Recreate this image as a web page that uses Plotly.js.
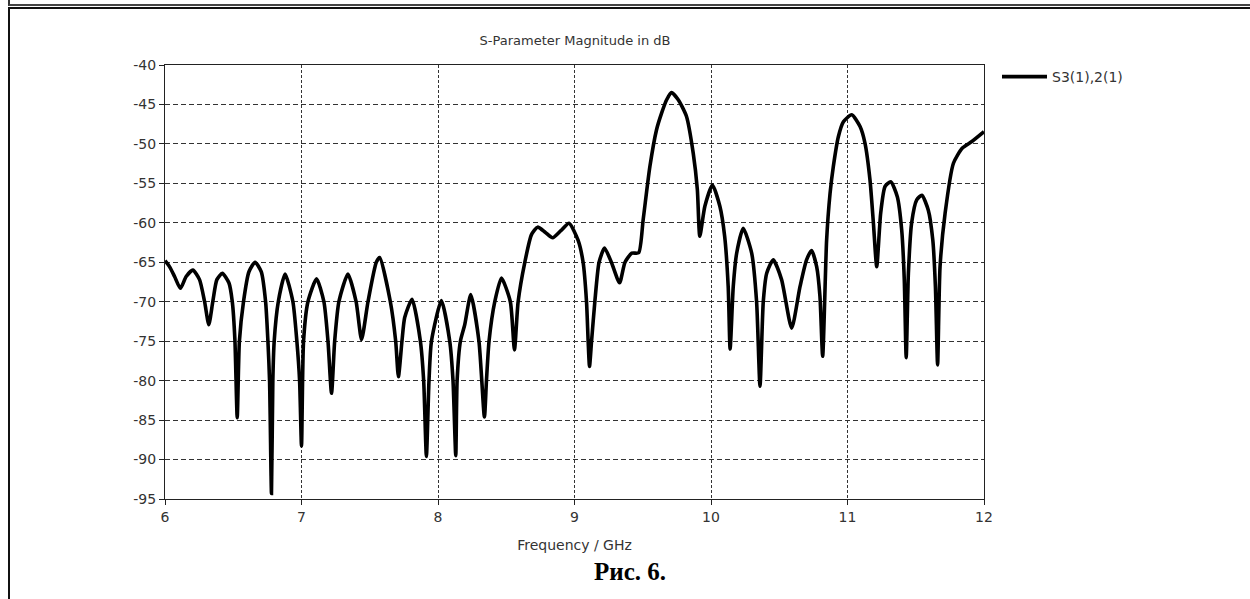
<!DOCTYPE html>
<html>
<head>
<meta charset="utf-8">
<script src="https://cdn.plot.ly/plotly-3.0.1.min.js"></script>
<style>
  html, body { margin: 0; padding: 0; background: #fff; }
  #wrap { position: relative; width: 1250px; height: 599px; overflow: hidden; }
  #chart { position: absolute; left: 0; top: 0; width: 1250px; height: 599px; }
  .frm { position: absolute; pointer-events: none; }
</style>
</head>
<body>
<div id="wrap">
  <div id="chart"></div>
  <div class="frm" style="left:8px; top:-10px; width:1300px; height:14px; border-left:2px solid #333; border-bottom:2px solid #444;"></div>
  <div class="frm" style="left:8px; top:7px; width:1300px; height:700px; border-left:2px solid #111; border-top:2px solid #111;"></div>
</div>
<script>
// Frequency in GHz
const freq = [
  6.000, 6.033, 6.070, 6.113, 6.155, 6.204, 6.253, 6.290, 6.321, 6.350,
  6.380, 6.420, 6.468, 6.493, 6.512, 6.529, 6.545, 6.575, 6.615, 6.660,
  6.705, 6.737, 6.754, 6.766, 6.780, 6.790, 6.800, 6.830, 6.880, 6.937,
  6.966, 6.986, 7.000, 7.015, 7.047, 7.110, 7.164, 7.194, 7.220, 7.243,
  7.274, 7.340, 7.400, 7.440, 7.487, 7.548, 7.573, 7.651, 7.690, 7.710,
  7.736, 7.756, 7.810, 7.871, 7.895, 7.915, 7.934, 7.952, 8.025, 8.086,
  8.110, 8.130, 8.140, 8.164, 8.196, 8.240, 8.300, 8.340, 8.355, 8.374,
  8.416, 8.465, 8.530, 8.560, 8.587, 8.636, 8.685, 8.730, 8.785, 8.840,
  8.900, 8.960, 9.026, 9.063, 9.088, 9.100, 9.110, 9.125, 9.149, 9.180,
  9.220, 9.270, 9.330, 9.370, 9.420, 9.470, 9.503, 9.552, 9.601, 9.638,
  9.675, 9.711, 9.760, 9.820, 9.870, 9.900, 9.918, 9.955, 10.010, 10.065,
  10.100, 10.126, 10.140, 10.163, 10.188, 10.236, 10.298, 10.334, 10.359, 10.383,
  10.408, 10.456, 10.517, 10.591, 10.652, 10.700, 10.737, 10.774, 10.798, 10.818,
  10.847, 10.872, 10.896, 10.933, 10.970, 11.031, 11.092, 11.128, 11.165, 11.190,
  11.214, 11.243, 11.275, 11.317, 11.365, 11.397, 11.416, 11.430, 11.446, 11.470,
  11.507, 11.545, 11.592, 11.625, 11.644, 11.660, 11.678, 11.715, 11.776, 11.840,
  11.911, 12.000
];
// |S3(1),2(1)| in dB
const s32dB = [
  -64.8, -65.55, -66.8, -68.3, -66.8, -66.0, -67.2, -70.0, -72.9, -70.0,
  -67.2, -66.4, -67.6, -70.0, -74.8, -84.7, -75.0, -70.0, -66.2, -65.0,
  -66.2, -70.0, -75.0, -80.0, -94.3, -80.0, -75.0, -70.0, -66.5, -70.0,
  -75.0, -80.0, -88.3, -75.0, -70.0, -67.1, -70.0, -75.0, -81.6, -75.0,
  -70.0, -66.5, -70.0, -74.8, -70.0, -65.0, -64.4, -70.0, -75.0, -79.5,
  -75.0, -72.0, -69.7, -75.0, -80.0, -89.6, -80.0, -75.0, -69.85, -75.0,
  -80.0, -89.5, -80.0, -75.0, -72.9, -69.1, -75.0, -84.6, -80.0, -75.0,
  -70.0, -67.0, -70.0, -76.1, -70.0, -65.0, -61.5, -60.55, -61.2, -61.9,
  -61.0, -60.05, -62.2, -65.0, -70.0, -75.0, -78.2, -75.0, -70.0, -65.0,
  -63.2, -65.0, -67.6, -65.0, -63.85, -63.8, -59.6, -52.9, -48.2, -46.1,
  -44.4, -43.5, -44.4, -46.5, -51.2, -55.8, -61.7, -57.9, -55.2, -57.9,
  -61.7, -68.1, -76.0, -68.1, -63.85, -60.7, -63.85, -70.0, -80.7, -70.0,
  -66.4, -64.7, -67.2, -73.35, -68.1, -64.7, -63.5, -65.55, -69.3, -76.9,
  -62.2, -56.3, -52.9, -49.1, -47.2, -46.3, -47.8, -49.9, -54.6, -60.1,
  -65.55, -58.8, -55.4, -54.8, -56.7, -60.9, -67.2, -77.1, -66.4, -60.0,
  -57.1, -56.5, -58.4, -62.2, -68.1, -78.0, -65.55, -58.8, -52.45, -50.55,
  -49.7, -48.45
];
const seriesName = "S3(1),2(1)";
const chartTitle = "S-Parameter Magnitude in dB";
const xTitle = "Frequency / GHz";
const caption = "Рис. 6.";
const xTickVals = [6, 7, 8, 9, 10, 11, 12];
const xTickText = ["6", "7", "8", "9", "10", "11", "12"];
const yTickVals = [-95, -90, -85, -80, -75, -70, -65, -60, -55, -50, -45, -40];
const yTickText = ["-95", "-90", "-85", "-80", "-75", "-70", "-65", "-60", "-55", "-50", "-45", "-40"];

const tickFont = { family: "DejaVu Sans, Verdana, sans-serif", size: 14, color: "#333" };

const trace = {
  x: freq, y: s32dB, type: "scatter", mode: "lines", name: seriesName,
  line: { color: "#000", width: 3.6, shape: "spline", smoothing: 0.6 }
};

const layout = {
  width: 1250, height: 599,
  margin: { l: 165, r: 266, t: 65, b: 100, pad: 0 },
  paper_bgcolor: "rgba(0,0,0,0)", plot_bgcolor: "#fff",
  font: tickFont,
  title: { text: chartTitle, font: { family: tickFont.family, size: 13, color: "#333" },
           x: 0.46, xanchor: "center", y: 1 - 40/599, yanchor: "middle", xref: "container", yref: "container" },
  showlegend: true,
  legend: { x: (997 - 165) / 819, xanchor: "left", y: 1 + 4/434, yanchor: "top", bgcolor: "rgba(0,0,0,0)",
            itemwidth: 45,
            font: { family: tickFont.family, size: 14, color: "#333" } },
  xaxis: {
    range: [6, 12], tickmode: "array", tickvals: xTickVals, ticktext: xTickText,
    showline: true, linecolor: "#222", linewidth: 1, mirror: true,
    ticks: "outside", ticklen: 5, tickcolor: "#222",
    showgrid: true, gridcolor: "#333", griddash: "3px,2px", gridwidth: 1,
    zeroline: false, tickfont: tickFont,
    title: { text: xTitle, font: tickFont, standoff: 16 }
  },
  yaxis: {
    range: [-95, -40], tickmode: "array", tickvals: yTickVals, ticktext: yTickText,
    showline: true, linecolor: "#222", linewidth: 1, mirror: true,
    ticks: "outside", ticklen: 5, tickcolor: "#222",
    showgrid: true, gridcolor: "#333", griddash: "5px,3px", gridwidth: 1,
    zeroline: false, tickfont: tickFont
  },
  annotations: [{
    text: "<b>" + caption + "</b>", xref: "paper", yref: "paper",
    x: (630 - 165) / 819, y: (499 - 571) / 434, xanchor: "center", yanchor: "middle",
    showarrow: false, font: { family: "Liberation Serif, Times New Roman, serif", size: 25, color: "#000" }
  }]
};

Plotly.newPlot("chart", [trace], layout, { staticPlot: true, displayModeBar: false });
</script>
</body>
</html>
